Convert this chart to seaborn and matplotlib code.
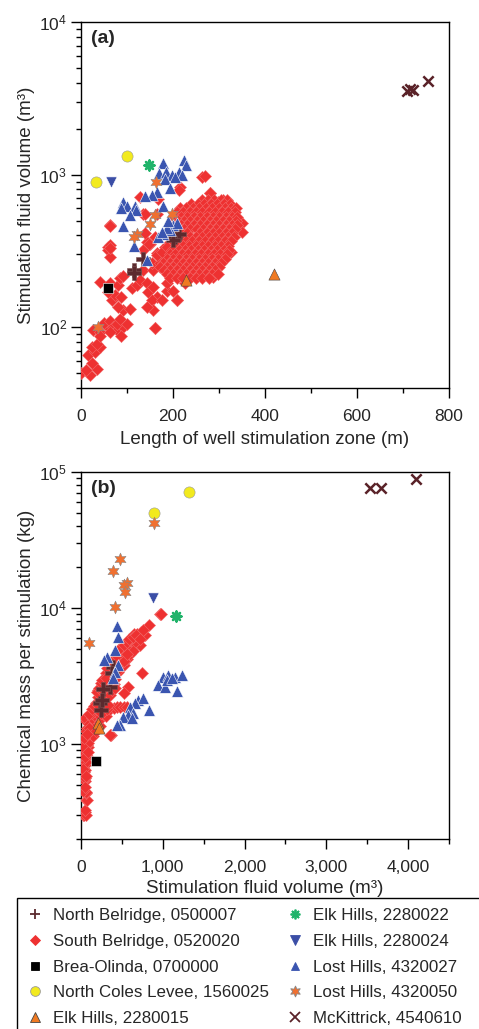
import matplotlib
matplotlib.use('Agg')

import matplotlib.pyplot as plt
import seaborn as sns
import numpy as np
from matplotlib.lines import Line2D
from matplotlib.patches import Rectangle
from matplotlib.ticker import MultipleLocator, FuncFormatter, LogLocator

# ---------------- data ----------------
# panel (a): length of stimulation zone (m) vs fluid volume (m3)
nb_len = [204, 212, 201, 134, 115, 115]
nb_vol = [392, 411, 372, 280, 238, 228]

# scattered South Belridge wells
sb_len = [1, 20, 11, 34, 23, 16, 30, 41, 23, 34, 25, 41, 56, 49, 63, 70, 78, 92, 88, 63,
          41, 78, 99, 85, 92, 107, 81, 67, 74, 88, 59, 41, 63, 81, 85, 92, 110, 121, 128, 143,
          146, 157, 165, 154, 157, 143, 175, 186, 201, 208, 186, 161, 135, 157, 154, 172, 183, 165, 183, 201,
          193, 208, 226, 222, 237, 251, 259, 288, 273, 215, 135, 143, 139, 161, 63, 59, 59, 63, 135,
          62, 62, 62, 139, 165, 150, 165, 175, 186, 208, 230, 248, 280, 331, 349, 349, 327, 327, 317,
          298, 309, 302, 273, 208, 161, 262, 270, 215, 212, 280, 167, 128, 148]
sb_vol = [50, 48.5, 52.5, 53, 58, 65.5, 69, 74, 74, 78, 95.5, 93, 102, 107, 110, 100, 95.5, 100, 87, 93,
          87, 105, 105, 113, 129, 132, 136, 151, 162, 158, 169, 197, 194, 190, 209, 218, 180, 190, 203, 194,
          169, 183, 158, 151, 129, 136, 151, 174, 174, 151, 194, 99, 236, 236, 262, 262, 280, 305, 335, 335,
          236, 218, 194, 225, 214, 214, 231, 214, 250, 262, 320, 364, 412, 392, 466, 335, 320, 290, 556,
          460, 345, 330, 556, 556, 352, 297, 310, 335, 236, 225, 236, 756, 586, 481, 422, 310, 422, 392,
          660, 681, 586, 616, 151, 99, 967, 980, 833, 788, 755, 689, 718, 350]

# dense South Belridge core, read row by row: (fluid volume, [lengths])
sb_core = [
    (680, [262, 276, 290, 304, 318]),
    (640, [240, 254, 268, 282, 296, 310, 324]),
    (600, [215, 229, 243, 257, 271, 285, 299, 313, 327, 337]),
    (565, [208, 222, 236, 250, 264, 278, 292, 306, 320, 334]),
    (530, [203, 217, 231, 245, 259, 273, 287, 301, 315, 329, 340]),
    (500, [210, 224, 238, 252, 266, 280, 294, 308, 322, 336]),
    (470, [203, 217, 231, 245, 259, 273, 287, 301, 315, 329, 339]),
    (440, [210, 224, 238, 252, 266, 280, 294, 308, 322, 335]),
    (415, [203, 217, 231, 259, 273, 287, 301, 315, 329]),
    (390, [222, 236, 250, 264, 278, 292, 306, 320, 332]),
    (365, [200, 214, 228, 242, 256, 270, 284, 298, 312, 326]),
    (342, [207, 221, 235, 249, 263, 277, 291, 305, 319]),
    (320, [198, 212, 226, 240, 254, 268, 282, 296, 310, 322]),
    (300, [193, 205, 219, 233, 247, 261, 275, 289, 303, 317]),
    (282, [186, 200, 214, 228, 242, 256, 270, 284, 298, 312]),
    (265, [179, 193, 207, 221, 235, 249, 263, 277, 291, 305]),
    (250, [172, 186, 200, 214, 228, 242, 256, 270, 284, 300]),
    (236, [180, 194, 208, 222, 236, 250, 264, 278, 292]),
    (222, [187, 201, 215, 229, 243, 257, 271, 285, 297]),
    (210, [194, 208, 222, 236, 250, 264, 278]),
]

bo_len = [59]
bo_vol = [180]
ncl_len = [33, 99]
ncl_vol = [898, 1327]
ek15_len = [228, 420]
ek15_vol = [203, 223]
ek22_len = [148]
ek22_vol = [1159]
ek24_len = [66]
ek24_vol = [893]
lh27_len = [179, 224, 228, 170, 185, 197, 212, 219, 204, 183, 193, 165, 154, 139, 178, 92, 99, 117,
            88, 120, 107, 92, 115, 143, 201, 193, 179, 168, 208, 187, 190, 175]
lh27_vol = [1194, 1245, 1150, 1028, 1045, 1000, 1045, 995, 970, 930, 820, 775, 730, 725, 620, 660, 620, 620,
            600, 590, 547, 460, 340, 275, 467, 432, 411, 391, 481, 445, 500, 420]
lh50_len = [163, 161, 150, 197, 121, 115, 38]
lh50_vol = [900, 547, 476, 556, 411, 392, 100]
mk_len = [708, 716, 722, 755]
mk_vol = [3550, 3650, 3600, 4100]

# panel (b): fluid volume (m3) vs chemical mass (kg)
nb_fv = [395, 375, 355, 273, 232, 241, 253]
nb_mass = [3700, 3310, 2640, 2520, 1990, 1780, 2110]

sb_fv = [28, 37, 49, 61, 49, 61, 77, 61, 61, 49, 37, 28, 40, 55, 30, 50, 70, 28, 45, 65,
         90, 40, 70, 100, 60, 120, 90, 150, 49, 130, 180, 160, 200, 230, 110, 250, 300, 360, 400, 440,
         480, 520, 560, 200, 170, 230, 180, 260, 300, 240, 320, 350, 290, 380, 340, 420, 400, 360, 450, 480,
         430, 520, 500, 560, 540, 600, 580, 640, 620, 680, 700, 740, 660, 720, 783, 836, 966, 975, 367, 750,
         579, 530, 355, 49, 210, 270, 330, 390, 300, 350, 410, 460, 500, 560, 610, 650, 280, 330,
         45, 35, 55, 40, 60, 35, 55, 75, 50, 85, 110, 140, 75, 95, 170, 210, 130, 160, 190, 220,
         250, 140, 280, 200, 230, 270, 310, 210, 260, 300, 340, 400, 330, 370, 300, 350, 400, 440, 380, 470,
         420, 500, 460, 530, 560, 600, 650, 600, 690, 730, 760, 510,
         60, 100, 150, 180, 100, 130, 160, 210, 250, 280, 320, 330, 200, 220, 250, 280, 320, 360, 380, 420,
         350, 260, 300, 320, 360, 340, 400, 440, 480, 520, 470, 520, 560, 590, 630, 670, 720, 640, 560,
         30, 50, 30, 60, 45, 25, 80, 35, 70]
sb_mass = [300, 300, 318, 300, 327, 387, 387, 434, 446, 530, 543, 600, 650, 700, 760, 780, 810, 807, 850, 900,
           950, 1000, 1050, 1100, 1150, 1150, 1250, 1200, 1500, 1350, 1300, 1450, 1400, 1350, 1500, 1550, 1600, 1800, 1850, 1870,
           1880, 1880, 1880, 1650, 1800, 1900, 2000, 2100, 2200, 2300, 2400, 2600, 2600, 2800, 2900, 3000, 3200, 3300, 3400, 3600,
           3700, 3800, 4000, 4200, 4400, 4600, 4900, 5100, 5400, 5600, 6000, 6200, 5800, 5300, 6330, 7500, 8990, 9000, 1165, 3310,
           2610, 2380, 1165, 1545, 2500, 2900, 3400, 3900, 3100, 3600, 4300, 4700, 5000, 5500, 5900, 6400, 2300, 2700,
           560, 620, 640, 720, 740, 880, 920, 980, 1080, 1020, 1200, 1280, 1300, 1400, 1380, 1480, 1550, 1620, 1700, 1750,
           1800, 1700, 1950, 1850, 2050, 2250, 2350, 2200, 2500, 2700, 2750, 2750, 3100, 3000, 3300, 3500, 3500, 3800, 3900, 4100,
           4300, 4500, 4700, 4800, 5200, 5000, 5500, 5800, 6400, 6700, 6900, 4200,
           1250, 1320, 1150, 1250, 1650, 1800, 1900, 1950, 1700, 1750, 1800, 1950, 2400, 2600, 2800, 2450, 2200, 2300, 2500, 2600,
           2900, 2950, 3050, 3600, 3800, 4000, 4100, 4400, 3900, 4100, 5000, 5300, 5600, 5900, 6100, 6300, 5900, 4800, 4600,
           450, 480, 650, 580, 800, 950, 870, 1100, 1180]

bo_fv = [183]
bo_mass = [753]
ncl_fv = [897, 1325]
ncl_mass = [50200, 71700]
ek15_fv = [204, 220]
ek15_mass = [1435, 1305]
ek22_fv = [1158]
ek22_mass = [8730]
ek24_fv = [880]
ek24_mass = [11800]
lh27_fv = [437, 457, 416, 314, 281, 457, 416, 395, 1007, 1068, 1150, 1232, 946, 1027, 1178, 1048, 1109,
           701, 762, 661, 832, 599, 640, 579, 517, 620, 477, 437]
lh27_mass = [7380, 6150, 4910, 4380, 4150, 3810, 3400, 3040, 3130, 3215, 3130, 3215, 2720, 2640, 2470, 2960, 3040,
             2110, 2170, 1990, 1780, 1880, 1680, 1630, 1590, 1540, 1380, 1380]
lh50_fv = [897, 477, 395, 559, 526, 542, 416, 102]
lh50_mass = [42400, 22800, 18800, 15200, 14700, 13000, 10200, 5500]
mk_fv = [3535, 3666, 4098]
mk_mass = [76700, 76000, 88900]

sites = ['North Belridge, 0500007', 'South Belridge, 0520020', 'Brea-Olinda, 0700000',
         'North Coles Levee, 1560025', 'Elk Hills, 2280015', 'Elk Hills, 2280022',
         'Elk Hills, 2280024', 'Lost Hills, 4320027', 'Lost Hills, 4320050', 'McKittrick, 4540610']

core_len = [x for v, xs in sb_core for x in xs]
core_vol = [v for v, xs in sb_core for x in xs]

panel_a = [(nb_len, nb_vol), (sb_len + core_len, sb_vol + core_vol), (bo_len, bo_vol), (ncl_len, ncl_vol),
           (ek15_len, ek15_vol), (ek22_len, ek22_vol), (ek24_len, ek24_vol), (lh27_len, lh27_vol),
           (lh50_len, lh50_vol), (mk_len, mk_vol)]
panel_b = [(nb_fv, nb_mass), (sb_fv, sb_mass), (bo_fv, bo_mass), (ncl_fv, ncl_mass), (ek15_fv, ek15_mass),
           (ek22_fv, ek22_mass), (ek24_fv, ek24_mass), (lh27_fv, lh27_mass), (lh50_fv, lh50_mass), (mk_fv, mk_mass)]

# marker, color, edge, size, legend marker size
styles = [
    ('P', '#5b2a2e', '#7a5050', 95, 7),
    ('D', '#ee3131', '#f26a6a', 38, 5),
    ('s', 'black', 'white', 45, 6),
    ('o', '#f2ea1e', '#999999', 65, 7),
    ('^', '#f07a22', '#444444', 65, 7),
    ((8, 2, 0), '#20b36a', None, 50, 7),
    ('v', '#3b4ea6', 'white', 65, 7),
    ('^', '#3a55b0', 'white', 70, 6),
    ((6, 1, 0), '#f07030', '#888888', 85, 8),
    ('x', '#5a2228', None, 55, 7),
]

# red first so the other sites sit on top of the South Belridge cloud
draw_order = [1, 0, 2, 3, 4, 5, 6, 7, 8, 9]

sns.set_style('ticks')
plt.rcParams['font.family'] = ['Liberation Sans', 'DejaVu Sans']
plt.rcParams['axes.linewidth'] = 1.0

fig = plt.figure(figsize=(4.79, 10.29), dpi=100)
ax_a = fig.add_axes([81 / 479, 1 - 388 / 1029, 368 / 479, 366 / 1029])
ax_b = fig.add_axes([81 / 479, 1 - 839 / 1029, 368 / 479, 367 / 1029])


def draw(ax, data):
    for i in draw_order:
        xs, ys = data[i]
        mk, col, ec, sz, _ = styles[i]
        kw = dict(marker=mk, color=col, s=sz, ax=ax, zorder=3)
        if ec is not None:
            kw['edgecolor'] = ec
            kw['linewidth'] = 0.4
        else:
            kw['linewidth'] = 1.8
        sns.scatterplot(x=xs, y=ys, **kw)


draw(ax_a, panel_a)
draw(ax_b, panel_b)

for ax in (ax_a, ax_b):
    ax.set_yscale('log')
    ax.yaxis.set_minor_locator(LogLocator(base=10, subs=np.arange(2, 10)))
    ax.tick_params(which='major', direction='out', length=7.5, width=1, labelsize=12.5, color='black')
    ax.tick_params(which='minor', direction='out', length=3.5, width=1, color='black')
    ax.tick_params(axis='x', which='major', pad=7.5)
    ax.tick_params(axis='y', which='major', pad=2.5)
    for sp in ax.spines.values():
        sp.set_visible(True)
        sp.set_color('black')

ax_a.set_xlim(0, 800)
ax_a.set_ylim(40, 1e4)
ax_a.xaxis.set_major_locator(MultipleLocator(200))
ax_a.xaxis.set_minor_locator(MultipleLocator(100))
ax_a.set_xlabel('Length of well stimulation zone (m)', fontsize=13.5, labelpad=5)
ax_a.set_ylabel('Stimulation fluid volume (m³)', fontsize=13.5, labelpad=3)
ax_a.text(0.027, 0.955, '(a)', transform=ax_a.transAxes, fontsize=14, fontweight='bold', va='center')

ax_b.set_xlim(0, 4500)
ax_b.set_ylim(200, 1e5)
ax_b.xaxis.set_major_locator(MultipleLocator(1000))
ax_b.xaxis.set_minor_locator(MultipleLocator(500))
ax_b.xaxis.set_major_formatter(FuncFormatter(lambda v, p: f'{v:,.0f}'))
ax_b.set_xlabel('Stimulation fluid volume (m³)', fontsize=13.5, labelpad=3.5)
ax_b.set_ylabel('Chemical mass per stimulation (kg)', fontsize=13.5, labelpad=3)
ax_b.text(0.027, 0.955, '(b)', transform=ax_b.transAxes, fontsize=14, fontweight='bold', va='center')

# legend
leg_markers = ['+', 'D', 's', 'o', '^', (8, 2, 0), 'v', '^', (6, 1, 0), 'x']
handles = []
for lm, (mk, col, ec, sz, ms) in zip(leg_markers, styles):
    if lm in ('+', 'x') or lm == (8, 2, 0):
        h = Line2D([], [], linestyle='none', marker=lm, color=col, markersize=ms, markeredgewidth=1.3)
    elif lm == 'D':
        h = Line2D([], [], linestyle='none', marker=lm, markerfacecolor=col, markeredgecolor=col,
                   markeredgewidth=0.6, markersize=ms)
    else:
        h = Line2D([], [], linestyle='none', marker=lm, markerfacecolor=col,
                   markeredgecolor=ec if ec not in (None, 'white') else col,
                   markeredgewidth=0.6, markersize=ms)
    handles.append(h)

fig.legend(handles, sites, ncol=2, loc='upper left', bbox_to_anchor=(0.023, 1 - 893 / 1029),
           frameon=False, fontsize=12.2, handlelength=1.0, handletextpad=0.6,
           columnspacing=1.0, labelspacing=0.63, borderpad=0.4)
fig.patches.append(Rectangle((17 / 479, -0.05), 1.0, 0.05 + (1029 - 898) / 1029, transform=fig.transFigure,
                             fill=False, edgecolor='black', linewidth=1.0))

fig.savefig('out.png', dpi=100)
plt.close(fig)
